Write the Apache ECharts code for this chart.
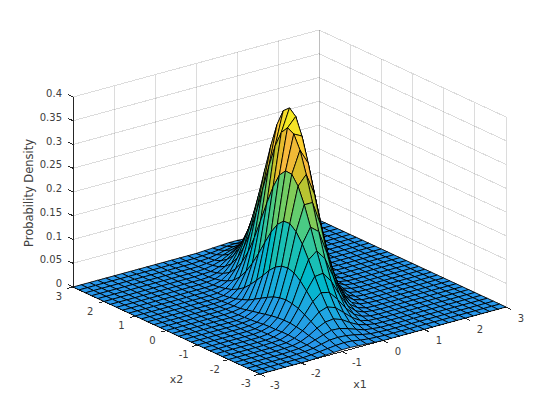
<!DOCTYPE html>
<html>
<head>
<meta charset="utf-8">
<style>html,body{margin:0;padding:0;background:#fff}#c{width:560px;height:420px}#c svg path{shape-rendering:crispEdges}</style>
<script src="https://cdn.jsdelivr.net/npm/echarts@6/dist/echarts.min.js"></script>
</head>
<body>
<div id="c"></div>
<script>
const x1Ticks = [-3, -2, -1, 0, 1, 2, 3];
const x2Ticks = [-3, -2, -1, 0, 1, 2, 3];
const zTicks = [0, 0.05, 0.1, 0.15, 0.2, 0.25, 0.3, 0.35, 0.4];
const zTickLabels = ['0', '0.05', '0.1', '0.15', '0.2', '0.25', '0.3', '0.35', '0.4'];
const x1Grid = [-3,-2.8,-2.6,-2.4,-2.2,-2,-1.8,-1.6,-1.4,-1.2,-1,-.8,-.6,-.4,-.2,0,.2,.4,.6,.8,1,1.2,1.4,1.6,1.8,2,2.2,2.4,2.6,2.8,3];
const x2Grid = [-3,-2.8,-2.6,-2.4,-2.2,-2,-1.8,-1.6,-1.4,-1.2,-1,-.8,-.6,-.4,-.2,0,.2,.4,.6,.8,1,1.2,1.4,1.6,1.8,2,2.2,2.4,2.6,2.8,3];
// density read per x2 row (x2 = -3 first), columns x1 = -3 .. 3
const density = [
[0,0,0,0,0,0,0,.001,.002,.003,.004,.004,.003,.002,.001,0,0,0,0,0,0,0,0,0,0,0,0,0,0,0,0],
[0,0,0,0,0,0,0,.001,.003,.005,.007,.008,.007,.004,.002,.001,0,0,0,0,0,0,0,0,0,0,0,0,0,0,0],
[0,0,0,0,0,0,.001,.002,.004,.008,.012,.013,.012,.009,.005,.002,.001,0,0,0,0,0,0,0,0,0,0,0,0,0,0],
[0,0,0,0,0,0,.001,.002,.005,.011,.017,.022,.021,.016,.010,.004,.002,0,0,0,0,0,0,0,0,0,0,0,0,0,0],
[0,0,0,0,0,0,.001,.002,.006,.014,.025,.033,.035,.029,.018,.009,.004,.001,0,0,0,0,0,0,0,0,0,0,0,0,0],
[0,0,0,0,0,0,.001,.002,.007,.018,.033,.048,.054,.048,.033,.018,.007,.002,.001,0,0,0,0,0,0,0,0,0,0,0,0],
[0,0,0,0,0,0,.001,.002,.008,.020,.041,.064,.078,.074,.055,.032,.014,.005,.001,0,0,0,0,0,0,0,0,0,0,0,0],
[0,0,0,0,0,0,0,.002,.008,.022,.048,.080,.106,.108,.087,.054,.026,.010,.003,.001,0,0,0,0,0,0,0,0,0,0,0],
[0,0,0,0,0,0,0,.002,.007,.022,.052,.095,.135,.149,.128,.086,.045,.018,.006,.001,0,0,0,0,0,0,0,0,0,0,0],
[0,0,0,0,0,0,0,.002,.007,.021,.054,.106,.162,.193,.179,.129,.073,.032,.011,.003,.001,0,0,0,0,0,0,0,0,0,0],
[0,0,0,0,0,0,0,.001,.006,.019,.052,.110,.182,.234,.234,.182,.110,.052,.019,.006,.001,0,0,0,0,0,0,0,0,0,0],
[0,0,0,0,0,0,0,.001,.004,.016,.048,.108,.193,.267,.287,.241,.158,.080,.032,.010,.002,0,0,0,0,0,0,0,0,0,0],
[0,0,0,0,0,0,0,.001,.003,.013,.041,.100,.192,.286,.332,.300,.212,.116,.050,.017,.004,.001,0,0,0,0,0,0,0,0,0],
[0,0,0,0,0,0,0,0,.002,.010,.033,.087,.179,.287,.360,.351,.267,.158,.073,.026,.007,.002,0,0,0,0,0,0,0,0,0],
[0,0,0,0,0,0,0,0,.001,.007,.025,.070,.157,.272,.367,.386,.316,.201,.100,.039,.012,.003,.001,0,0,0,0,0,0,0,0],
[0,0,0,0,0,0,0,0,.001,.004,.017,.054,.129,.241,.351,.398,.351,.241,.129,.054,.017,.004,.001,0,0,0,0,0,0,0,0],
[0,0,0,0,0,0,0,0,.001,.003,.012,.039,.100,.201,.316,.386,.367,.272,.157,.070,.025,.007,.001,0,0,0,0,0,0,0,0],
[0,0,0,0,0,0,0,0,0,.002,.007,.026,.073,.158,.267,.351,.360,.287,.179,.087,.033,.010,.002,0,0,0,0,0,0,0,0],
[0,0,0,0,0,0,0,0,0,.001,.004,.017,.050,.116,.212,.300,.332,.286,.192,.100,.041,.013,.003,.001,0,0,0,0,0,0,0],
[0,0,0,0,0,0,0,0,0,0,.002,.010,.032,.080,.158,.241,.287,.267,.193,.108,.048,.016,.004,.001,0,0,0,0,0,0,0],
[0,0,0,0,0,0,0,0,0,0,.001,.006,.019,.052,.110,.182,.234,.234,.182,.110,.052,.019,.006,.001,0,0,0,0,0,0,0],
[0,0,0,0,0,0,0,0,0,0,.001,.003,.011,.032,.073,.129,.179,.193,.162,.106,.054,.021,.007,.002,0,0,0,0,0,0,0],
[0,0,0,0,0,0,0,0,0,0,0,.001,.006,.018,.045,.086,.128,.149,.135,.095,.052,.022,.007,.002,0,0,0,0,0,0,0],
[0,0,0,0,0,0,0,0,0,0,0,.001,.003,.010,.026,.054,.087,.108,.106,.080,.048,.022,.008,.002,0,0,0,0,0,0,0],
[0,0,0,0,0,0,0,0,0,0,0,0,.001,.005,.014,.032,.055,.074,.078,.064,.041,.020,.008,.002,.001,0,0,0,0,0,0],
[0,0,0,0,0,0,0,0,0,0,0,0,.001,.002,.007,.018,.033,.048,.054,.048,.033,.018,.007,.002,.001,0,0,0,0,0,0],
[0,0,0,0,0,0,0,0,0,0,0,0,0,.001,.004,.009,.018,.029,.035,.033,.025,.014,.006,.002,.001,0,0,0,0,0,0],
[0,0,0,0,0,0,0,0,0,0,0,0,0,0,.002,.004,.010,.016,.021,.022,.017,.011,.005,.002,.001,0,0,0,0,0,0],
[0,0,0,0,0,0,0,0,0,0,0,0,0,0,.001,.002,.005,.009,.012,.013,.012,.008,.004,.002,.001,0,0,0,0,0,0],
[0,0,0,0,0,0,0,0,0,0,0,0,0,0,0,.001,.002,.004,.007,.008,.007,.005,.003,.001,0,0,0,0,0,0,0],
[0,0,0,0,0,0,0,0,0,0,0,0,0,0,0,0,.001,.002,.003,.004,.004,.003,.002,.001,0,0,0,0,0,0,0]
];
const parula = [
[.2422,.1504,.6603],[.2504,.1650,.7076],[.2578,.1818,.7511],[.2647,.1978,.7952],[.2706,.2147,.8364],[.2751,.2342,.8710],[.2783,.2559,.8991],[.2803,.2782,.9221],
[.2813,.3006,.9414],[.2810,.3228,.9579],[.2795,.3447,.9717],[.2760,.3667,.9829],[.2699,.3892,.9906],[.2602,.4123,.9952],[.2440,.4358,.9988],[.2206,.4603,.9973],
[.1963,.4847,.9892],[.1834,.5074,.9798],[.1786,.5289,.9682],[.1764,.5499,.9520],[.1687,.5703,.9359],[.1540,.5902,.9218],[.1460,.6091,.9079],[.1380,.6276,.8973],
[.1248,.6459,.8883],[.1113,.6635,.8763],[.0952,.6798,.8598],[.0689,.6948,.8394],[.0297,.7082,.8163],[.0036,.7203,.7917],[.0067,.7312,.7660],[.0433,.7411,.7394],
[.0964,.7500,.7120],[.1408,.7584,.6842],[.1717,.7670,.6554],[.1938,.7758,.6251],[.2161,.7843,.5923],[.2470,.7918,.5567],[.2906,.7973,.5188],[.3406,.8008,.4789],
[.3909,.8029,.4354],[.4456,.8024,.3909],[.5044,.7993,.3480],[.5616,.7942,.3045],[.6174,.7876,.2612],[.6720,.7793,.2227],[.7242,.7698,.1910],[.7738,.7598,.1646],
[.8203,.7498,.1535],[.8634,.7406,.1596],[.9035,.7330,.1774],[.9393,.7288,.2100],[.9728,.7298,.2394],[.9956,.7434,.2371],[.9970,.7659,.2199],[.9952,.7893,.2028],
[.9892,.8136,.1885],[.9786,.8386,.1766],[.9676,.8639,.1643],[.9610,.8890,.1537],[.9597,.9135,.1423],[.9628,.9373,.1265],[.9691,.9606,.1064],[.9769,.9839,.0805]
];
const xMin = -3, xMax = 3, zMin = 0, zMax = 0.4;
// view projection: screen offset per full axis range
const VIEW = { origin: [260, 374], x1: [246, -67], x2: [-187, -87], z: [0, -190] };
const FONT = '"DejaVu Sans", sans-serif';
const GRID_COL = 'rgba(38,38,38,0.16)';
const AXIS_COL = '#262626';
const TEXT_COL = '#404040';

function project(a, b, c) {
  const u = (a - xMin) / (xMax - xMin), v = (b - xMin) / (xMax - xMin), w = (c - zMin) / (zMax - zMin);
  return [VIEW.origin[0] + u * VIEW.x1[0] + v * VIEW.x2[0] + w * VIEW.z[0],
          VIEW.origin[1] + u * VIEW.x1[1] + v * VIEW.x2[1] + w * VIEW.z[1]];
}
const zVals = density.flat();
const zLo = Math.min(...zVals), zHi = Math.max(...zVals);
const cMin = zLo - 0.5 * (zHi - zLo), cMax = zHi;
function colorOf(z) {
  const k = Math.max(0, Math.min(63, Math.floor((z - cMin) / (cMax - cMin) * 64)));
  const p = parula[k];
  return 'rgb(' + p.map(q => Math.round(q * 255)).join(',') + ')';
}

// 3D segments and labels
const wallSegs = [];
x1Ticks.forEach(t => {
  wallSegs.push([[t, xMax, zMin], [t, xMax, zMax]]);
  wallSegs.push([[t, xMin, zMin], [t, xMax, zMin]]);
});
x2Ticks.forEach(t => {
  wallSegs.push([[xMax, t, zMin], [xMax, t, zMax]]);
  wallSegs.push([[xMin, t, zMin], [xMax, t, zMin]]);
});
zTicks.forEach(t => {
  wallSegs.push([[xMin, xMax, t], [xMax, xMax, t]]);
  wallSegs.push([[xMax, xMin, t], [xMax, xMax, t]]);
});
const TICK = 0.17;
const axisSegs = [
  [[xMin, xMin, zMin], [xMax, xMin, zMin]],
  [[xMin, xMin, zMin], [xMin, xMax, zMin]],
  [[xMin, xMax, zMin], [xMin, xMax, zMax]]
];
x1Ticks.forEach(t => axisSegs.push([[t, xMin, zMin], [t, xMin - TICK, zMin]]));
x2Ticks.forEach(t => axisSegs.push([[xMin, t, zMin], [xMin - TICK * 0.8, t, zMin]]));
zTicks.forEach(t => axisSegs.push([[xMin, xMax, t], [xMin, xMax + TICK, t]]));

const labels = [];
x1Ticks.forEach(t => labels.push({ p: [t, xMin, zMin], dx: 15, dy: 11, text: String(t), align: 'center', size: 10 }));
x2Ticks.forEach(t => labels.push({ p: [xMin, t, zMin], dx: -14, dy: 9.5, text: String(t), align: 'center', size: 10 }));
zTicks.forEach((t, n) => labels.push({ p: [xMin, xMax, t], dx: -11, dy: -3.5, text: zTickLabels[n], align: 'right', size: 10 }));
labels.push({ p: [0, xMin, zMin], dx: -23, dy: 44, text: 'x1', align: 'center', size: 11 });
labels.push({ p: [xMin, 0, zMin], dx: 10, dy: 49, text: 'x2', align: 'center', size: 11 });
labels.push({ p: [xMin, xMax, 0.2], dx: -44, dy: 1, text: 'Probability Density', align: 'center', size: 11.5, rot: Math.PI / 2 });

const cells = [];
for (let a = x1Grid.length - 2; a >= 0; a--) {
  for (let b = x2Grid.length - 2; b >= 0; b--) cells.push([a, b]);
}

function segSeries(segs, color, width, z) {
  return {
    type: 'custom', coordinateSystem: 'cartesian2d', silent: true, z: z, clip: false, progressive: 0,
    data: segs.map((s, n) => [n]),
    renderItem: function (params, api) {
      const s = segs[api.value(0)];
      const p0 = api.coord(project(...s[0])), p1 = api.coord(project(...s[1]));
      return { type: 'line', shape: { x1: p0[0], y1: p0[1], x2: p1[0], y2: p1[1] },
        style: { stroke: color, lineWidth: width, fill: null } };
    }
  };
}

const chart = echarts.init(document.getElementById('c'), null, { renderer: 'svg' });
chart.setOption({
  animation: false,
  backgroundColor: '#ffffff',
  tooltip: { show: false },
  grid: { left: 0, right: 0, top: 0, bottom: 0 },
  xAxis: { type: 'value', min: 0, max: 560, show: false },
  yAxis: { type: 'value', min: 0, max: 420, inverse: true, show: false },
  series: [
    segSeries(wallSegs, GRID_COL, 1, 1),
    segSeries(axisSegs, AXIS_COL, 1, 2),
    {
      type: 'custom', coordinateSystem: 'cartesian2d', silent: true, z: 3, clip: false, progressive: 0,
      data: cells,
      renderItem: function (params, api) {
        const a = api.value(0), b = api.value(1);
        const corners = [[a, b], [a + 1, b], [a + 1, b + 1], [a, b + 1]];
        const pts = corners.map(c => api.coord(project(x1Grid[c[0]], x2Grid[c[1]], density[c[1]][c[0]])));
        return { type: 'polygon', shape: { points: pts },
          style: { fill: colorOf(density[b][a]), stroke: '#000000', lineWidth: 0.85, lineJoin: 'round' } };
      }
    },
    {
      type: 'custom', coordinateSystem: 'cartesian2d', silent: true, z: 4, clip: false, progressive: 0,
      data: labels.map((l, n) => [n]),
      renderItem: function (params, api) {
        const l = labels[api.value(0)];
        const p = api.coord(project(...l.p));
        return { type: 'text', x: p[0] + l.dx, y: p[1] + l.dy, rotation: l.rot || 0,
          style: { text: l.text, fill: TEXT_COL, font: l.size + 'px ' + FONT, textAlign: l.align, textVerticalAlign: 'middle' } };
      }
    }
  ]
});
</script>
</body>
</html>
